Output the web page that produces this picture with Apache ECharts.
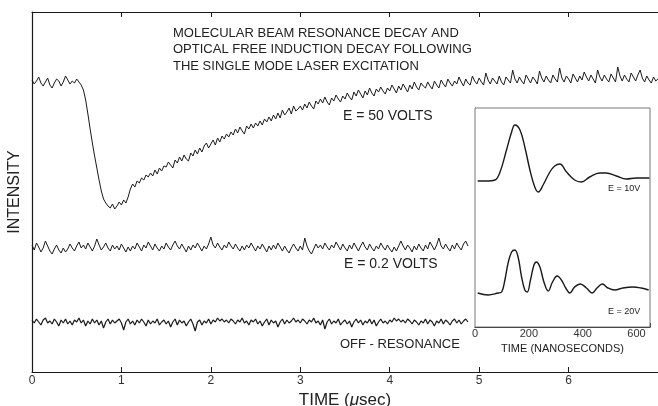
<!DOCTYPE html>
<html>
<head>
<meta charset="utf-8">
<script src="https://cdn.jsdelivr.net/npm/echarts@6/dist/echarts.min.js"></script>
<style>html,body{margin:0;background:#fff}#chart{width:658px;height:406px}</style>
</head>
<body>
<div id="chart"></div>
<script>
// samples every 0.025 usec, intensity in arbitrary units
const STEP = 0.025;
const trace50V = [
  292, 288, 291, 295, 289, 286, 290, 294, 287, 284, 289, 293, 291, 286, 290, 296, 292, 288, 291, 289,
  293, 290, 287, 282, 272, 258, 243, 229, 216, 204, 192, 181, 173, 169, 166, 164, 168, 163, 166, 170,
  167, 172, 169, 175, 183, 188, 185, 191, 189, 194, 192, 197, 195, 199, 196, 202, 198, 204, 201, 206,
  205, 210, 207, 204, 212, 209, 215, 211, 217, 213, 211, 219, 216, 222, 218, 224, 220, 226, 229, 224,
  228, 232, 227, 234, 230, 236, 233, 238, 235, 240, 237, 243, 239, 245, 241, 238, 246, 243, 248, 244,
  249, 246, 251, 247, 253, 250, 255, 251, 257, 253, 259, 254, 262, 257, 260, 264, 258, 266, 261, 263,
  266, 262, 268, 264, 270, 266, 263, 271, 268, 273, 269, 275, 270, 267, 274, 271, 277, 273, 270, 276,
  273, 279, 275, 272, 280, 276, 282, 278, 274, 281, 277, 284, 279, 276, 283, 280, 285, 281, 278, 284,
  281, 287, 283, 279, 286, 282, 288, 284, 280, 287, 283, 290, 285, 282, 289, 286, 284, 290, 286, 283,
  291, 287, 284, 292, 288, 285, 293, 289, 286, 291, 288, 295, 290, 286, 293, 289, 287, 296, 291, 288,
  294, 290, 287, 299, 292, 288, 294, 291, 288, 296, 290, 287, 295, 292, 289, 302, 293, 289, 295, 291,
  288, 297, 293, 289, 295, 292, 288, 301, 294, 290, 296, 292, 289, 297, 293, 290, 304, 294, 290, 296,
  293, 289, 298, 294, 290, 296, 292, 300, 295, 291, 297, 293, 289, 302, 295, 291, 297, 293, 290, 298,
  294, 290, 305, 296, 291, 297, 293, 290, 299, 295, 291, 297, 302, 294, 290, 296, 292, 289, 295, 291, 293
];
const trace02V = [
  127, 122, 129, 125, 120, 124, 131, 126, 121, 118, 123, 127, 122, 119, 124, 120, 123, 128, 124, 121,
  126, 130, 124, 127, 123, 129, 125, 121, 126, 133, 127, 122, 125, 129, 124, 121, 127, 123, 126, 122,
  128, 124, 120, 125, 121, 126, 123, 129, 125, 121, 127, 124, 130, 126, 122, 128, 124, 121, 126, 123,
  129, 125, 122, 127, 131, 126, 123, 128, 124, 120, 126, 122, 127, 124, 129, 125, 121, 126, 123, 128,
  135, 127, 124, 129, 125, 122, 127, 124, 130, 126, 123, 128, 124, 121, 126, 122, 127, 124, 129, 125,
  121, 126, 123, 128, 124, 120, 126, 122, 127, 123, 129, 125, 121, 126, 122, 119, 124, 128, 124, 121,
  126, 122, 134, 126, 121, 118, 123, 128, 124, 127, 123, 129, 125, 122, 127, 124, 130, 126, 122, 128,
  124, 121, 127, 123, 129, 125, 121, 126, 130, 125, 122, 128, 124, 121, 126, 123, 129, 125, 122, 127,
  123, 120, 125, 121, 126, 131, 126, 122, 127, 124, 120, 126, 122, 128, 124, 121, 127, 123, 130, 126,
  122, 127, 134, 126, 123, 128, 124, 121, 127, 123, 129, 125, 122, 128, 131, 126
];
const traceOff = [
  52, 49, 53, 50, 47, 52, 54, 49, 51, 48, 53, 50, 46, 52, 49, 53, 48, 51, 47, 52,
  50, 54, 49, 52, 46, 51, 48, 53, 49, 52, 47, 51, 44, 50, 53, 48, 52, 49, 51, 53,
  49, 42, 50, 53, 48, 51, 47, 52, 49, 53, 50, 46, 52, 48, 51, 49, 53, 47, 50, 52,
  48, 51, 45, 50, 53, 47, 52, 49, 51, 46, 50, 53, 48, 41, 50, 52, 47, 51, 49, 53,
  48, 52, 50, 54, 51, 53, 50, 52, 49, 53, 51, 48, 52, 50, 54, 49, 51, 47, 52, 50,
  53, 48, 51, 46, 50, 53, 47, 52, 49, 51, 45, 50, 53, 48, 52, 49, 51, 54, 50, 52,
  49, 53, 51, 48, 52, 50, 54, 49, 51, 47, 52, 43, 50, 53, 48, 51, 49, 53, 47, 50,
  52, 48, 51, 45, 50, 53, 49, 52, 47, 51, 49, 53, 48, 52, 46, 50, 53, 49, 51, 48,
  52, 50, 54, 51, 53, 50, 52, 49, 53, 51, 48, 52, 50, 47, 51, 49, 53, 48, 52, 50,
  46, 51, 49, 53, 48, 52, 50, 47, 51, 53, 49, 52, 48, 51, 53, 50
];

// inset: optical free induction decay (time in ns)
const insetTime10 = [10, 40, 74, 93, 117, 136, 148, 167, 185, 204, 222, 235, 253, 278, 296, 315, 340, 370, 395, 426, 463, 488, 525, 562, 599, 636, 648];
const inset10V    = [146, 146, 147, 155, 177, 195, 202, 197, 180, 157, 140, 135, 142, 155, 161, 163, 155, 147, 145, 150, 154, 154, 151, 148, 149, 149, 149];
const insetTime20 = [10, 49, 86, 99, 111, 123, 136, 148, 160, 173, 185, 194, 206, 219, 228, 241, 256, 272, 288, 305, 321, 337, 352, 370, 391, 414, 435, 453, 473, 494, 519, 549, 586, 617, 645];
const inset20V    = [34, 32, 34, 35, 47, 64, 75, 77, 70, 50, 37, 35, 47, 62, 65, 60, 45, 36, 45, 51, 47, 39, 34, 40, 43, 39, 34, 39, 43, 39, 37, 39, 40, 39, 37];

function toPairs(vals) {
  return vals.map(function (v, i) { return [+(i * STEP).toFixed(3), v]; });
}
function zip(ts, vs) {
  return ts.map(function (t, i) { return [t, vs[i]]; });
}

const ink = '#1a1a1a';
const font = 'Liberation Sans';

const chart = echarts.init(document.getElementById('chart'));
const option = {
  backgroundColor: '#fff',
  animation: false,
  textStyle: { fontFamily: font, color: ink },
  grid: [
    { left: 32, right: 0, top: 12, bottom: 34, outerBoundsMode: 'none', containLabel: false },
    { left: 475, top: 108, width: 175, height: 219, outerBoundsMode: 'none', containLabel: false, show: true, borderColor: '#777', borderWidth: 1, backgroundColor: '#fff', z: 5 }
  ],
  xAxis: [
    {
      type: 'value', gridIndex: 0, min: 0, max: 7, interval: 1,
      axisLine: { lineStyle: { color: ink, width: 1.2 } },
      axisTick: { inside: true, length: 5, lineStyle: { color: ink } },
      axisLabel: { color: '#333', fontSize: 12, margin: 3, showMaxLabel: false },
      splitLine: { show: false },
      name: 'TIME ({i|μ}sec)', nameLocation: 'middle', nameGap: 16,
      nameTextStyle: { fontSize: 17, color: '#222', rich: { i: { fontSize: 17, fontStyle: 'italic', color: '#222' } } }
    },
    {
      type: 'value', gridIndex: 0, position: 'top', min: 0, max: 7, interval: 1,
      axisLine: { lineStyle: { color: ink, width: 1 } },
      axisTick: { inside: true, length: 5, lineStyle: { color: ink } },
      axisLabel: { show: false },
      splitLine: { show: false }
    },
    {
      type: 'value', gridIndex: 1, min: 0, max: 650, interval: 100,
      axisLine: { lineStyle: { color: ink, width: 1.2 } },
      axisTick: { inside: true, length: 4, lineStyle: { color: ink } },
      axisLabel: { color: '#333', fontSize: 11, margin: 1, formatter: function (v) { return v % 200 === 0 ? v : ''; } },
      splitLine: { show: false },
      name: 'TIME (NANOSECONDS)', nameLocation: 'middle', nameGap: 13,
      nameTextStyle: { fontSize: 11, color: '#222' }
    }
  ],
  yAxis: [
    {
      type: 'value', gridIndex: 0, min: 0, max: 360,
      axisLine: { show: true, lineStyle: { color: ink, width: 1.2 } },
      axisTick: { show: false }, axisLabel: { show: false }, splitLine: { show: false },
      name: 'INTENSITY', nameLocation: 'middle', nameGap: 9,
      nameTextStyle: { fontSize: 16, color: '#222' }
    },
    {
      type: 'value', gridIndex: 1, min: 0, max: 219,
      axisLine: { show: true, lineStyle: { color: '#555', width: 1 } },
      axisTick: { show: false }, axisLabel: { show: false }, splitLine: { show: false }
    }
  ],
  series: [
    { type: 'line', xAxisIndex: 0, yAxisIndex: 0, data: toPairs(trace50V), showSymbol: false, lineStyle: { color: ink, width: 1 } },
    { type: 'line', xAxisIndex: 0, yAxisIndex: 0, data: toPairs(trace02V), showSymbol: false, lineStyle: { color: ink, width: 1 } },
    { type: 'line', xAxisIndex: 0, yAxisIndex: 0, data: toPairs(traceOff), showSymbol: false, lineStyle: { color: ink, width: 1.2 } },
    { type: 'line', xAxisIndex: 2, yAxisIndex: 1, data: zip(insetTime10, inset10V), smooth: 0.4, showSymbol: false, lineStyle: { color: ink, width: 1.4 }, z: 6 },
    { type: 'line', xAxisIndex: 2, yAxisIndex: 1, data: zip(insetTime20, inset20V), smooth: 0.4, showSymbol: false, lineStyle: { color: ink, width: 1.4 }, z: 6 }
  ],
  graphic: [
    { type: 'text', left: 173, top: 25, z: 10, style: { text: 'MOLECULAR BEAM RESONANCE DECAY AND\nOPTICAL FREE INDUCTION DECAY FOLLOWING\nTHE SINGLE MODE LASER EXCITATION', font: '13px "Liberation Sans"', lineHeight: 16.5, fill: '#222' } },
    { type: 'text', left: 343, top: 109, z: 10, style: { text: 'E = 50 VOLTS', font: '14px "Liberation Sans"', fill: '#222' } },
    { type: 'text', left: 344, top: 257, z: 10, style: { text: 'E = 0.2 VOLTS', font: '14px "Liberation Sans"', fill: '#222' } },
    { type: 'text', left: 340, top: 338, z: 10, style: { text: 'OFF - RESONANCE', font: '13px "Liberation Sans"', fill: '#222' } },
    { type: 'text', left: 608, top: 184, z: 10, style: { text: 'E = 10V', font: '9px "Liberation Sans"', fill: '#222' } },
    { type: 'text', left: 608, top: 307, z: 10, style: { text: 'E = 20V', font: '9px "Liberation Sans"', fill: '#222' } }
  ]
};
chart.setOption(option);
</script>
</body>
</html>
